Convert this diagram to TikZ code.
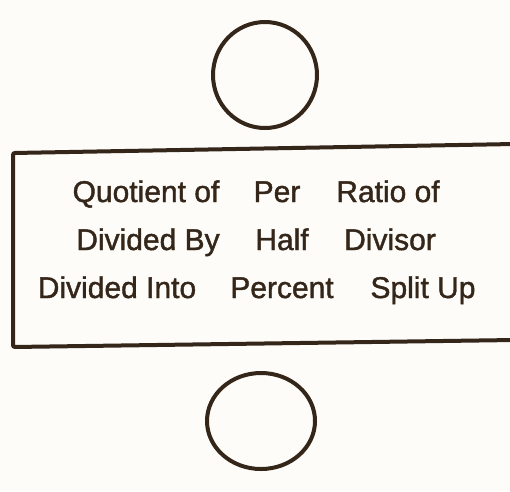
\documentclass[tikz,border=0pt]{standalone}
\usepackage{fontspec}
\setmainfont{Liberation Sans}
\newfontfamily\heavyfont{Liberation Sans}[FakeBold=1.3]
\usetikzlibrary{shapes.geometric}
\definecolor{ink}{HTML}{35261A}
\definecolor{paper}{HTML}{FDFCF8}
\begin{document}
\begin{tikzpicture}[x=1pt,y=-1pt,
  ring/.style={draw=ink,line width=4pt,ellipse,inner sep=0pt},
  word/.style={text=ink,font=\heavyfont\fontsize{30}{30}\selectfont,inner sep=0pt,anchor=base}]
\fill[paper] (0,0) rectangle (510,491);
\useasboundingbox (0,0) rectangle (510,491);
\node[ring,minimum width=104pt,minimum height=106pt] (top) at (265,75) {};
\node[ring,minimum width=108pt,minimum height=96pt] (bot) at (261,421) {};
\draw[ink,line width=4pt,rounded corners=2pt] (514,144) -- (13,153) -- (13,347) -- (514,340);
\node[word] (q) at (146,202) {Quotient of};
\node[word] (p) at (277,202) {Per};
\node[word] (r) at (388,202) {Ratio of};
\node[word] (db) at (148,250) {Divided By};
\node[word] (h) at (282,250) {Half};
\node[word] (dv) at (390,250) {Divisor};
\node[word] (di) at (117,298) {Divided Into};
\node[word] (pc) at (282,298) {Percent};
\node[word] (s) at (423,298) {Split Up};
\end{tikzpicture}
\end{document}
